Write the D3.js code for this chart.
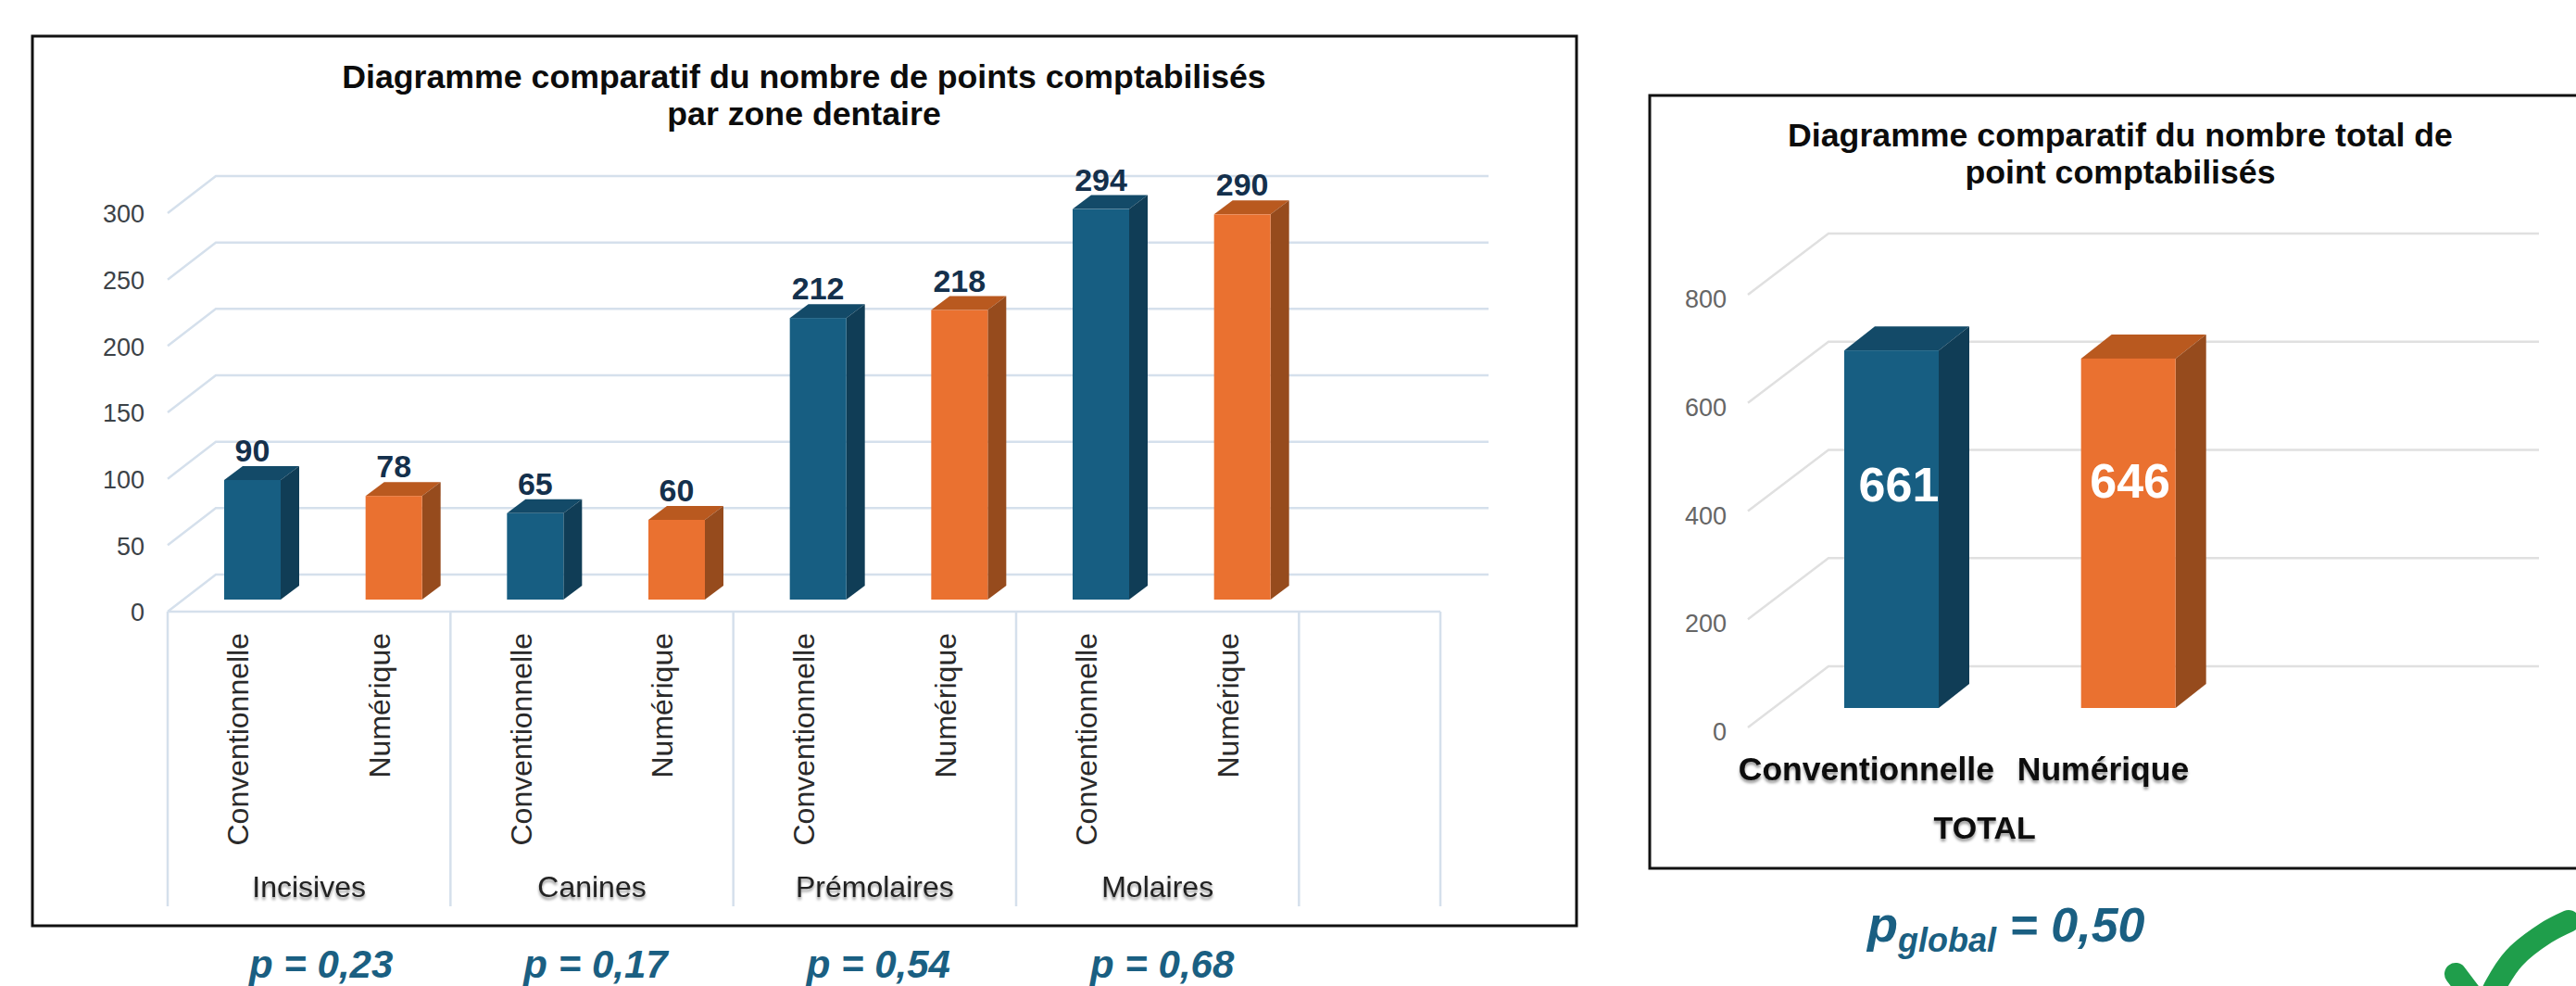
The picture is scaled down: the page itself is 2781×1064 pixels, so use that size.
<!DOCTYPE html>
<html>
<head>
<meta charset="utf-8">
<script src="https://cdn.jsdelivr.net/npm/d3@7"></script>
<style>
  body { margin: 0; background: #fff; overflow: hidden; }
  text { font-family: "Liberation Sans", Arial, sans-serif; }
</style>
</head>
<body>
<div id="chart"></div>
<script>
// Data
const zones = ['Incisives', 'Canines', 'Prémolaires', 'Molaires']
const methods = ['Conventionnelle', 'Numérique']
const conventionnelle = [90, 65, 212, 294]
const numerique = [78, 60, 218, 290]
const pValues = ['p = 0,23', 'p = 0,17', 'p = 0,54', 'p = 0,68']
const zoneTicks = [0, 50, 100, 150, 200, 250, 300]

const totals = [661, 646]
const totalTicks = [0, 200, 400, 600, 800]

const blue = { front: '#175e82', top: '#134a68', side: '#103d56' }
const orange = { front: '#ea7130', top: '#b9591f', side: '#964b1d' }

const svg = d3.select('#chart')
    .append('svg')
    .attr('width', 2781)
    .attr('height', 1064)

const defs = svg.append('defs')
const shadow = defs.append('filter').attr('id', 'soft')
    .attr('x', '-10%').attr('y', '-20%').attr('width', '120%').attr('height', '150%')
shadow.append('feDropShadow')
    .attr('dx', 0).attr('dy', 3).attr('stdDeviation', 1.6)
    .attr('flood-color', '#000').attr('flood-opacity', 0.4)

// one 3D column: front face, top and side
function drawBar(g, x, w, yTop, yBase, depthX, depthY, col) {
    g.append('polygon')
        .attr('points', [[x, yTop], [x + depthX, yTop - depthY], [x + w + depthX, yTop - depthY], [x + w, yTop]].join(' '))
        .attr('fill', col.top)
    g.append('polygon')
        .attr('points', [[x + w, yTop], [x + w + depthX, yTop - depthY], [x + w + depthX, yBase - depthY], [x + w, yBase]].join(' '))
        .attr('fill', col.side)
    g.append('rect')
        .attr('x', x).attr('y', yTop)
        .attr('width', w).attr('height', yBase - yTop)
        .attr('fill', col.front)
}

// Left chart
const left = svg.append('g')

left.append('rect')
    .attr('x', 35).attr('y', 39)
    .attr('width', 1667).attr('height', 960)
    .attr('fill', '#fff').attr('stroke', '#111').attr('stroke-width', 3)

const leftTitle = left.append('text')
    .attr('text-anchor', 'middle')
    .attr('font-weight', 'bold')
    .attr('font-size', 35.7)
    .attr('fill', '#0c0c0c')
leftTitle.append('tspan').attr('x', 868).attr('y', 95).text('Diagramme comparatif du nombre de points comptabilisés')
leftTitle.append('tspan').attr('x', 868).attr('y', 135).text('par zone dentaire')

// 8 cells + an empty one at the end of the axis
const slots = zones.flatMap(z => methods.map(m => z + '|' + m)).concat(['vide'])
const xSlot = d3.scaleBand().domain(slots).range([181, 1555])
const xZone = d3.scaleBand().domain(zones.concat(['vide'])).range([181, 181 + xSlot.step() * 10])

// y scale on the back wall
const yBack = d3.scaleLinear().domain([0, 300]).range([620, 190])
const depth = { x: 52, y: 40 }
const gridColor = '#d5e0ec'

const grid = left.append('g')
grid.selectAll('polyline')
    .data(zoneTicks)
    .join('polyline')
    .attr('points', d => [[181, yBack(d) + depth.y], [181 + depth.x, yBack(d)], [1607, yBack(d)]].join(' '))
    .attr('fill', 'none')
    .attr('stroke', gridColor)
    .attr('stroke-width', 2.5)

// front edge of the floor
left.append('line')
    .attr('x1', 181).attr('x2', 1555)
    .attr('y1', yBack(0) + depth.y).attr('y2', yBack(0) + depth.y)
    .attr('stroke', gridColor).attr('stroke-width', 2.5)

const yFront = d3.axisLeft(d3.scaleLinear().domain([0, 300]).range([660, 230]))
    .tickValues(zoneTicks)
    .tickSize(0)
    .tickPadding(25)
const yAxisLeft = left.append('g')
    .attr('transform', 'translate(181, 0)')
    .call(yFront)
yAxisLeft.select('.domain').remove()
yAxisLeft.selectAll('text')
    .attr('font-size', 27)
    .attr('font-family', '"Liberation Sans", Arial, sans-serif')
    .attr('fill', '#3c4247')
    .attr('dy', '0.36em')

// bars
const barLeft = { offset: 61, width: 61, depthX: 20, depthY: 15, base: 647 }
const barScale = yBack(0) - yBack(1)
const barsG = left.append('g')
zones.forEach((z, i) => {
    methods.forEach((m, j) => {
        const v = (j === 0 ? conventionnelle : numerique)[i]
        const x = xSlot(z + '|' + m) + barLeft.offset
        const top = barLeft.base - v * barScale
        drawBar(barsG, x, barLeft.width, top, barLeft.base, barLeft.depthX, barLeft.depthY, j === 0 ? blue : orange)
        barsG.append('text')
            .attr('x', x + barLeft.width / 2)
            .attr('y', top - 20)
            .attr('text-anchor', 'middle')
            .attr('font-weight', 'bold')
            .attr('font-size', 34)
            .attr('fill', '#14304c')
            .text(v)
        // method label, rotated
        left.append('text')
            .attr('transform', `translate(${xSlot(z + '|' + m) + xSlot.step() / 2 + 11}, 683) rotate(-90)`)
            .attr('text-anchor', 'end')
            .attr('font-size', 32)
            .attr('fill', '#2a2a2a')
            .text(m)
    })
})

// category dividers
const dividers = [...zones, 'vide'].map(z => xZone(z)).concat([1555])
left.append('g').selectAll('line')
    .data(dividers)
    .join('line')
    .attr('x1', d => d).attr('x2', d => d)
    .attr('y1', 660).attr('y2', 978)
    .attr('stroke', gridColor).attr('stroke-width', 2.5)

left.append('g').selectAll('text')
    .data(zones)
    .join('text')
    .attr('x', d => xZone(d) + xZone.bandwidth() / 2)
    .attr('y', 968)
    .attr('text-anchor', 'middle')
    .attr('font-size', 32)
    .attr('fill', '#222')
    .attr('filter', 'url(#soft)')
    .text(d => d)

// p values under the groups
const pNudge = [13, 4, 4, 5]
svg.append('g').selectAll('text')
    .data(pValues)
    .join('text')
    .attr('x', (d, i) => xZone(zones[i]) + xZone.bandwidth() / 2 + pNudge[i])
    .attr('y', 1055)
    .attr('text-anchor', 'middle')
    .attr('font-weight', 'bold')
    .attr('font-style', 'italic')
    .attr('font-size', 42)
    .attr('fill', '#1a5f82')
    .text(d => d)

// Right chart
const right = svg.append('g')

right.append('rect')
    .attr('x', 1781).attr('y', 103)
    .attr('width', 1010).attr('height', 834)
    .attr('fill', '#fff').attr('stroke', '#111').attr('stroke-width', 3)

const rightTitle = right.append('text')
    .attr('text-anchor', 'middle')
    .attr('font-weight', 'bold')
    .attr('font-size', 35.7)
    .attr('fill', '#0c0c0c')
rightTitle.append('tspan').attr('x', 2289).attr('y', 158).text('Diagramme comparatif du nombre total de')
rightTitle.append('tspan').attr('x', 2289).attr('y', 198).text('point comptabilisés')

const yTotal = d3.scaleLinear().domain([0, 800]).range([719, 252])
const depthR = { x: 87, y: 66 }
const xTotal = d3.scaleBand().domain([...methods, 'vide']).range([1887, 2654])

right.append('g').selectAll('polyline')
    .data(totalTicks)
    .join('polyline')
    .attr('points', d => [[1887, yTotal(d) + depthR.y], [1887 + depthR.x, yTotal(d)], [2741, yTotal(d)]].join(' '))
    .attr('fill', 'none')
    .attr('stroke', '#e0e0e0')
    .attr('stroke-width', 2.5)

const yAxisRight = right.append('g')
    .attr('transform', 'translate(1887, 0)')
    .call(d3.axisLeft(d3.scaleLinear().domain([0, 800]).range([785, 318]))
        .tickValues(totalTicks).tickSize(0).tickPadding(23))
yAxisRight.select('.domain').remove()
yAxisRight.selectAll('text')
    .attr('font-size', 27)
    .attr('font-family', '"Liberation Sans", Arial, sans-serif')
    .attr('fill', '#666')
    .attr('dy', '0.5em')

const barRight = { offset: 104, width: 102, depthX: 33, depthY: 26, base: 764 }
const totalScale = yTotal(0) - yTotal(1)
methods.forEach((m, j) => {
    const x = xTotal(m) + barRight.offset
    const top = barRight.base - totals[j] * totalScale
    drawBar(right, x, barRight.width, top, barRight.base, barRight.depthX, barRight.depthY, j === 0 ? blue : orange)
    right.append('text')
        .attr('x', x + barRight.width / 2 + (j === 0 ? 8 : 2))
        .attr('y', j === 0 ? 541 : 537)
        .attr('text-anchor', 'middle')
        .attr('font-weight', 'bold')
        .attr('font-size', 52)
        .attr('fill', '#fff')
        .text(totals[j])
    right.append('text')
        .attr('x', xTotal(m) + xTotal.bandwidth() / 2)
        .attr('y', 842)
        .attr('text-anchor', 'middle')
        .attr('font-weight', 'bold')
        .attr('font-size', 35.5)
        .attr('fill', '#0a0a0a')
        .attr('filter', 'url(#soft)')
        .text(m)
})

right.append('text')
    .attr('x', xTotal(methods[1]))
    .attr('y', 905)
    .attr('text-anchor', 'middle')
    .attr('font-weight', 'bold')
    .attr('font-size', 34)
    .attr('fill', '#0a0a0a')
    .attr('filter', 'url(#soft)')
    .text('TOTAL')

const pGlobal = svg.append('text')
    .attr('x', 2016)
    .attr('y', 1016)
    .attr('font-weight', 'bold')
    .attr('font-style', 'italic')
    .attr('fill', '#1a5f82')
pGlobal.append('tspan').attr('font-size', 54).text('p')
pGlobal.append('tspan').attr('font-size', 36).attr('dy', 11).text('global')
pGlobal.append('tspan').attr('font-size', 52).attr('dy', -11).text(' = 0,50')

// validation tick, cut by the bottom of the picture
const tick = svg.append('g')
    .attr('fill', 'none')
    .attr('stroke', '#1f9e4b')
    .attr('stroke-width', 24)
    .attr('stroke-linecap', 'round')
tick.append('path')
    .attr('d', d3.line()([[2651, 1051], [2682, 1092]]))
tick.append('path')
    .attr('d', d3.line().curve(d3.curveCatmullRom)([[2682, 1092], [2694, 1064], [2714, 1034], [2748, 1007], [2773, 994]]))
</script>
</body>
</html>
